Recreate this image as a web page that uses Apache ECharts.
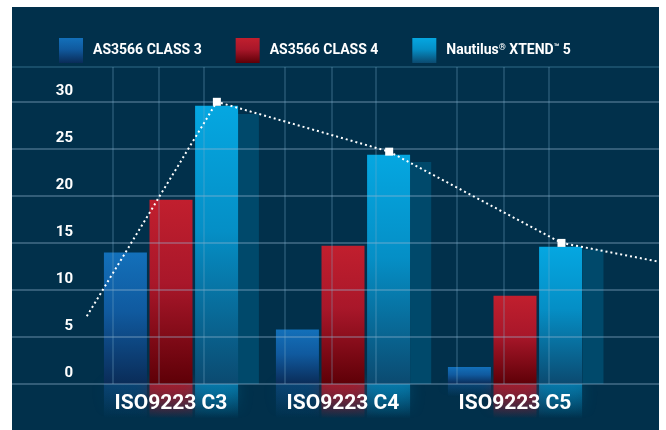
<!DOCTYPE html>
<html>
<head>
<meta charset="utf-8">
<script src="https://cdn.jsdelivr.net/npm/echarts@6.0.0/dist/echarts.min.js"></script>
<style>
html, body { margin: 0; padding: 0; background: #fff; }
#panel { position: absolute; left: 12px; top: 7px; width: 647px; height: 423px; background: #01304b; }
#chart { position: absolute; left: 0; top: 0; width: 666px; height: 430px; }
</style>
</head>
<body>
<div id="panel"></div>
<div id="chart"></div>
<script>
// data
const categories = ['ISO9223 C3', 'ISO9223 C4', 'ISO9223 C5'];
const seriesNames = ['AS3566 CLASS 3', 'AS3566 CLASS 4', 'Nautilus® XTEND™ 5'];
const class3 = [14, 5.8, 1.8];
const class4 = [19.6, 14.7, 9.4];
const xtend5 = [29.6, 24.4, 14.6];
const xtendShadow = [28.7, 23.6, 14.3];   // darker "side" of the cyan bars
const trendX = [-0.49, 0.265, 1.265, 2.265, 2.83]; // in category units
const trendVals = [7.2, 30, 24.7, 15, 13];
const yMax = 30;
const yStep = 5;

const chart = echarts.init(document.getElementById('chart'));

function grad(stops) {
  return new echarts.graphic.LinearGradient(0, 0, 0, 1,
    stops.map(s => ({ offset: s[0], color: s[1] })));
}

const colors = [
  grad([[0, '#1370ba'], [0.45, '#105a9f'], [1, '#0a2c58']]),
  grad([[0, '#c11f2e'], [0.45, '#a9172a'], [1, '#5e0007']]),
  grad([[0, '#05a7e1'], [0.45, '#058fc6'], [1, '#0b4a70']])
];
const glow = ['rgba(30,110,200,', 'rgba(200,25,40,', 'rgba(10,160,220,'];
const glowAlpha = [0.3, 0.75, 0.6];

// vertical grid lines (slightly right of each bar's left edge)
const vLines = [];
categories.forEach((c, i) => { [-0.339, -0.074, 0.188].forEach(o => vLines.push({ xAxis: i + o })); });

const hColors = [];
for (let v = 0; v <= yMax; v += yStep) hColors.push('rgba(150,185,210,0.45)');
hColors.push('rgba(60,120,150,0.55)');

const barBase = { type: 'bar', barWidth: 43, barGap: '6%', z: 2 };

const series = [];
[class3, class4, xtend5].forEach((d, i) => {
  series.push(Object.assign({}, barBase, {
    name: seriesNames[i], xAxisIndex: 0, yAxisIndex: 0, data: d,
    itemStyle: { color: colors[i] }
  }));
});
[class3, class4, xtend5].forEach((d, i) => {
  series.push(Object.assign({}, barBase, {
    name: 'refl' + i, xAxisIndex: 2, yAxisIndex: 2, data: d, z: 0, silent: true,
    itemStyle: {
      color: grad([[0, glow[i] + glowAlpha[i] + ')'], [0.75, glow[i] + '0)']]),
      shadowBlur: 14, shadowColor: glow[i] + (glowAlpha[i] * 0.7) + ')'
    }
  }));
});
series.push({
  name: 'shadow', type: 'bar', xAxisIndex: 1, yAxisIndex: 1, barWidth: 21, z: 1,
  data: xtendShadow.map((v, i) => [i + 0.448, v]),
  itemStyle: { color: '#00496b' }, silent: true
});
series.push({
  name: 'trend', type: 'line', xAxisIndex: 1, yAxisIndex: 1, z: 10,
  data: trendVals.map((v, i) => ({
    value: [trendX[i], v],
    symbol: (i === 0 || i === trendVals.length - 1) ? 'none' : 'rect'
  })),
  symbolSize: 8,
  itemStyle: { color: '#fff' },
  lineStyle: { color: '#fff', width: 2, type: [2, 3] },
  markLine: {
    silent: true, symbol: 'none', label: { show: false },
    lineStyle: { color: 'rgba(120,170,200,0.32)', width: 1.5, type: 'solid' },
    data: vLines
  }
});

chart.setOption({
  animation: false,
  textStyle: { fontFamily: 'Roboto' },
  legend: {
    data: seriesNames, left: 54, top: 33, itemWidth: 24, itemHeight: 25, itemGap: 34,
    icon: 'rect',
    formatter: n => n.replace('®', '{s|®}').replace('™', '{s|™}'),
    textStyle: {
      color: '#fff', fontSize: 14, fontWeight: 'bold', padding: [0, 0, 0, 5],
      rich: { s: { color: '#fff', fontSize: 9, fontWeight: 'bold', verticalAlign: 'top', padding: [0, 0, 6, 0] } }
    }
  },
  grid: [
    { left: 85, right: 65, top: 102, bottom: 46 },
    { left: 12, right: 7, top: 67, bottom: 46 },
    { left: 85, right: 65, top: 384, bottom: 0 }
  ],
  xAxis: [
    { type: 'category', gridIndex: 0, data: categories, z: 6,
      axisLine: { show: false }, axisTick: { show: false }, splitLine: { show: false },
      axisLabel: { color: '#fff', fontSize: 21, fontWeight: 'bold', margin: 9 } },
    { type: 'value', gridIndex: 1, min: -0.924, max: 2.831, show: false },
    { type: 'category', gridIndex: 2, data: categories, show: false }
  ],
  yAxis: [
    { type: 'value', gridIndex: 0, min: 0, max: yMax, interval: yStep, show: false },
    { type: 'value', gridIndex: 1, min: 0, max: 33.7, interval: yStep, z: 5,
      axisLine: { show: false }, axisTick: { show: false },
      axisLabel: { inside: true, align: 'right', margin: 61, verticalAlign: 'bottom',
        padding: [0, 0, 3, 0], showMaxLabel: false, color: '#fff', fontSize: 15, fontWeight: 'bold' },
      splitLine: { lineStyle: { color: hColors, width: 1.5 } } },
    { type: 'value', gridIndex: 2, min: 0, max: 4.9, inverse: true, show: false }
  ],
  series: series
});
</script>
</body>
</html>
